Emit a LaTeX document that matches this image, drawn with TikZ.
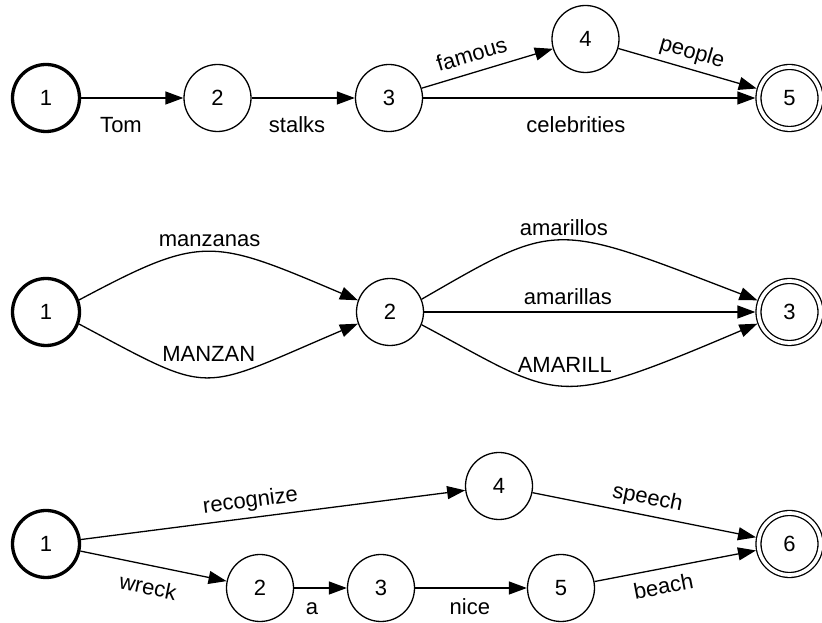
\documentclass[tikz,border=0pt]{standalone}
\usepackage{fontspec}
\setmainfont{Liberation Sans}
\usetikzlibrary{arrows.meta}
\begin{document}
\begin{tikzpicture}[x=1bp,y=1bp,
  every node/.style={font=\fontsize{22bp}{26bp}\selectfont},
  st/.style={circle, draw, line width=1.3bp, minimum size=67bp, inner sep=0pt},
  init/.style={st, line width=3.3bp},
  fin/.style={st, minimum size=62bp, double, double distance=3.7bp, outer sep=3.15bp},
  tr/.style={line width=1.3bp, -{Triangle[length=18bp,width=13bp]}},
  lab/.style={inner sep=0pt, anchor=base}]
\useasboundingbox (0,0) rectangle (822,623);
% row 1
\node[init] (a1) at (46,525) {1};
\node[st] (a2) at (217.5,525) {2};
\node[st] (a3) at (389,525) {3};
\node[st] (a4) at (585.5,584) {4};
\node[fin] (a5) at (789.5,525) {5};
\draw[tr] (a1) -- node[lab,pos=.39,yshift=-35bp]{Tom} (a2);
\draw[tr] (a2) -- node[lab,pos=.44,yshift=-35bp]{stalks} (a3);
\draw[tr] (a3) -- node[lab,pos=.46,yshift=-35bp]{celebrities} (a5);
\draw[tr] (a3) -- node[lab,sloped,pos=.42,yshift=10.5bp]{famous} (a4);
\draw[tr] (a4) -- node[lab,sloped,pos=.5,yshift=10.5bp]{people} (a5);
% row 2
\node[init] (b1) at (46,311) {1};
\node[st] (b2) at (390,311) {2};
\node[fin] (b3) at (789.5,311) {3};
\draw[tr] (b1.20) .. controls +(28:140) and +(157:160) .. (b2.160) node[lab,pos=.5,yshift=5.5bp]{manzanas};
\draw[tr] (b1.-20) .. controls +(-28:155) and +(-157:177) .. (b2.-160) node[lab,pos=.5,yshift=15.4bp]{MANZAN};
\draw[tr] (b2.22) .. controls +(30:158) and +(159:220) .. (b3.160) node[lab,pos=.5,yshift=5bp]{amarillos};
\draw[tr] (b2) -- node[lab,pos=.434,yshift=7bp]{amarillas} (b3);
\draw[tr] (b2.-22) .. controls +(-28:160) and +(-157:225) .. (b3.-160) node[lab,pos=.5,yshift=13bp]{AMARILL};
% row 3
\node[init] (c1) at (46,79) {1};
\node[st] (c2) at (260,35) {2};
\node[st] (c3) at (381,35) {3};
\node[st] (c4) at (499,137) {4};
\node[st] (c5) at (561,35) {5};
\node[fin] (c6) at (789.5,79) {6};
\draw[tr] (c1) -- node[lab,sloped,pos=.447,yshift=10.5bp]{recognize} (c4);
\draw[tr] (c1) -- node[lab,sloped,pos=.493,yshift=-29.3bp]{wreck} (c2);
\draw[tr] (c2) -- node[lab,pos=.34,yshift=-27bp]{a} (c3);
\draw[tr] (c3) -- node[lab,pos=.49,yshift=-27bp]{nice} (c5);
\draw[tr] (c4) -- node[lab,sloped,pos=.5,yshift=11bp]{speech} (c6);
\draw[tr] (c5) -- node[lab,sloped,pos=.406,yshift=-25.4bp]{beach} (c6);
\end{tikzpicture}
\end{document}
